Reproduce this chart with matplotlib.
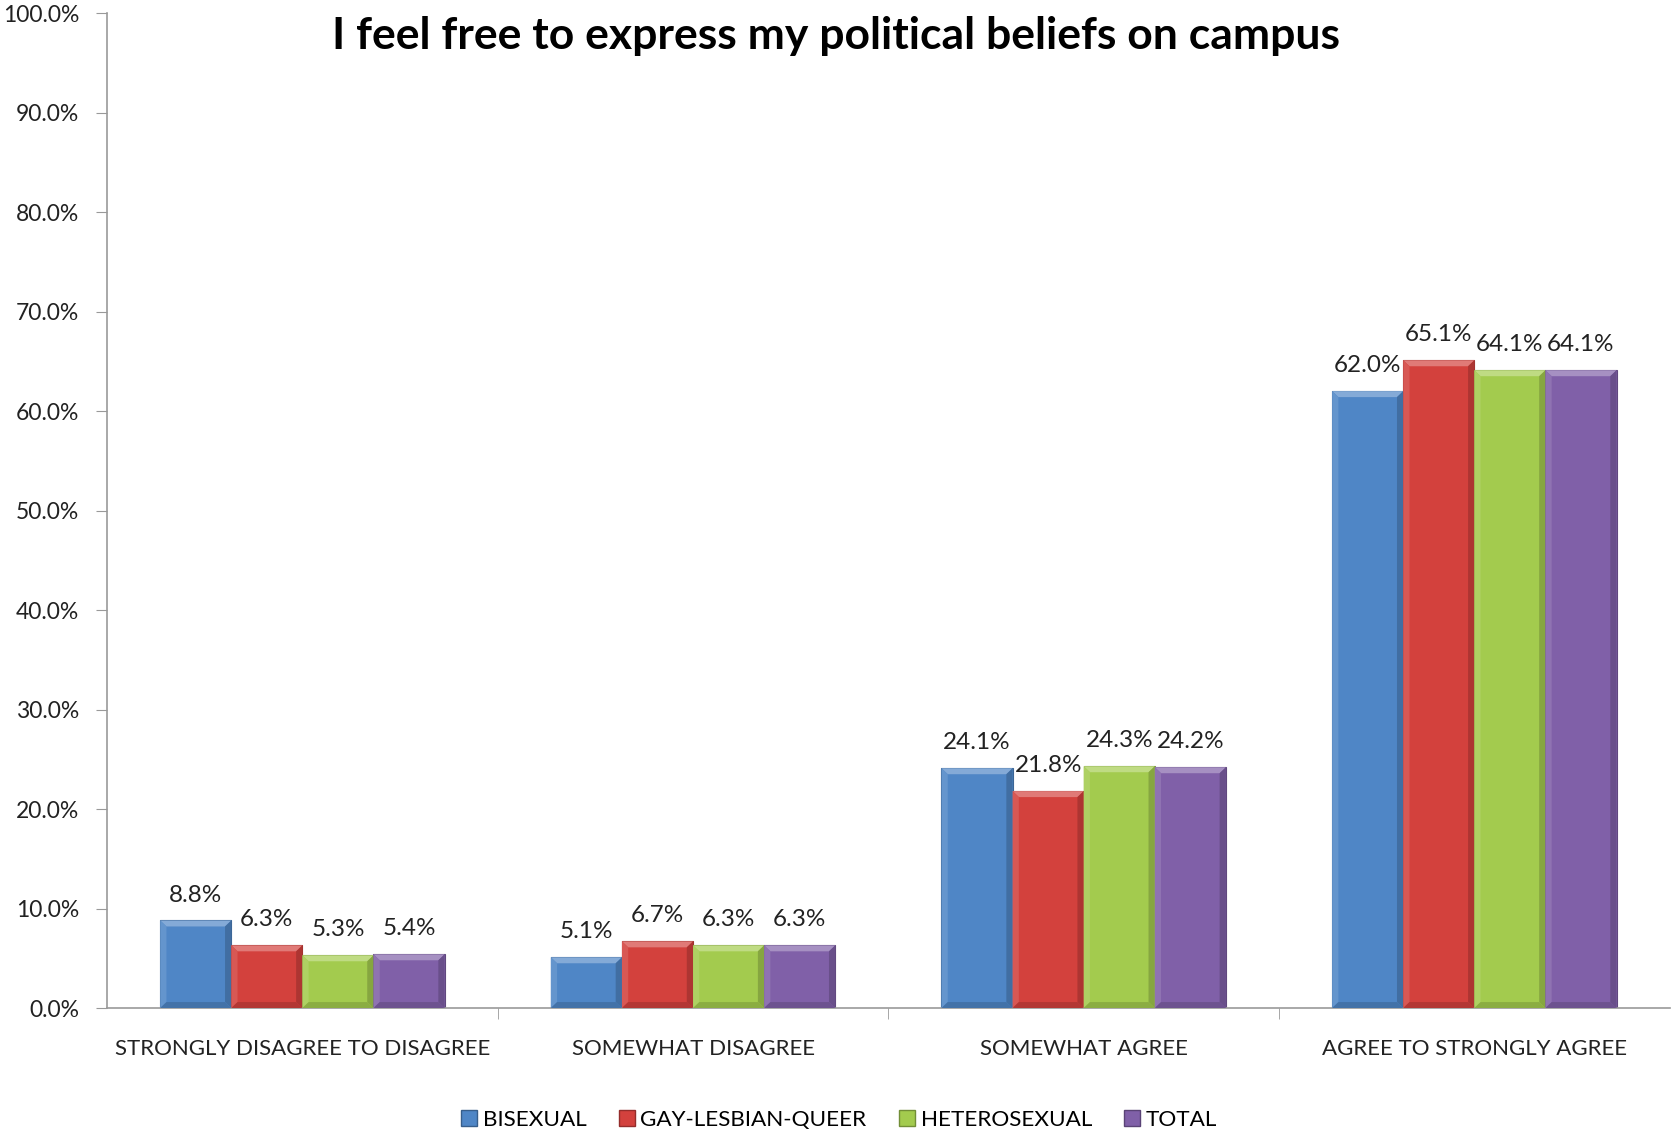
import numpy as np
import matplotlib
matplotlib.use("Agg")
import matplotlib.pyplot as plt
from matplotlib.patches import Polygon
from matplotlib.lines import Line2D
import matplotlib.colors as mcolors

plt.rcParams['font.family'] = ['Lato', 'DejaVu Sans']

categories = ["STRONGLY DISAGREE TO DISAGREE", "SOMEWHAT DISAGREE",
              "SOMEWHAT AGREE", "AGREE TO STRONGLY AGREE"]
series_names = ["BISEXUAL", "GAY-LESBIAN-QUEER", "HETEROSEXUAL", "TOTAL"]
bisexual = [8.8, 5.1, 24.1, 62.0]
gay_lesbian_queer = [6.3, 6.7, 21.8, 65.1]
heterosexual = [5.3, 6.3, 24.3, 64.1]
total = [5.4, 6.3, 24.2, 64.1]
colors = ["#4F86C6", "#D3413D", "#A3CB4E", "#8060A8"]

series = [bisexual, gay_lesbian_queer, heterosexual, total]


def shade(c, f):
    r, g, b = mcolors.to_rgb(c)
    if f > 0:
        return (r + (1 - r) * f, g + (1 - g) * f, b + (1 - b) * f)
    return (r * (1 + f), g * (1 + f), b * (1 + f))


fig = plt.figure(figsize=(16.73, 11.32), dpi=100)
ax = fig.add_axes([0.064, 0.1095, 0.934, 0.879])

x = np.arange(len(categories))
bw = 0.182
bx = 0.016  # bevel size in x data units
by = 0.6    # bevel size in y data units

for i, (vals, col) in enumerate(zip(series, colors)):
    pos = x + (i - 1.5) * bw
    bars = ax.bar(pos, vals, bw, color=col, edgecolor=shade(col, -0.25), linewidth=0.8, zorder=2)
    for b, v in zip(bars, vals):
        x0, w, h = b.get_x(), b.get_width(), b.get_height()
        x1 = x0 + w
        # simple bevel faces
        ax.add_patch(Polygon([(x0, h), (x1, h), (x1 - bx, h - by), (x0 + bx, h - by)],
                             closed=True, facecolor=shade(col, 0.3), edgecolor='none', zorder=3))
        ax.add_patch(Polygon([(x0, 0), (x0, h), (x0 + bx, h - by), (x0 + bx, by)],
                             closed=True, facecolor=shade(col, 0.12), edgecolor='none', zorder=3))
        ax.add_patch(Polygon([(x1, 0), (x1, h), (x1 - bx, h - by), (x1 - bx, by)],
                             closed=True, facecolor=shade(col, -0.18), edgecolor='none', zorder=3))
        ax.add_patch(Polygon([(x0, 0), (x1, 0), (x1 - bx, by), (x0 + bx, by)],
                             closed=True, facecolor=shade(col, -0.15), edgecolor='none', zorder=3))
        ax.text(x0 + w / 2, h + 1.5, "%.1f%%" % v, ha='center', va='bottom',
                fontsize=17.5, color='#222222')

ax.set_xlim(-0.5, len(categories) - 0.5)
ax.set_ylim(0, 100)
ax.set_yticks(np.arange(0, 101, 10))
ax.set_yticklabels(["%.1f%%" % t for t in np.arange(0, 101, 10)], fontsize=16.5, color='#222222')
ax.set_xticks(x)
ax.set_xticklabels(categories, fontsize=16, color='#222222')
ax.set_xticks(np.arange(0.5, len(categories) - 1, 1), minor=True)
ax.tick_params(axis='x', which='major', length=0, pad=22)
ax.tick_params(axis='x', which='minor', length=8, color='#999999', direction='out')
ax.tick_params(axis='y', length=8, color='#999999', pad=12)

for s in ['top', 'right']:
    ax.spines[s].set_visible(False)
for s in ['left', 'bottom']:
    ax.spines[s].set_color('#999999')
    ax.spines[s].set_linewidth(1.2)

fig.text(0.5, 0.968, "I feel free to express my political beliefs on campus",
         ha='center', va='center', fontsize=32, fontweight='bold', color='black')

handles = [Line2D([], [], marker='s', linestyle='none', markersize=11,
                  markerfacecolor=c, markeredgecolor=shade(c, -0.3)) for c in colors]
fig.legend(handles, series_names, loc='center', bbox_to_anchor=(0.5, 0.011),
           ncol=4, frameon=False, fontsize=16.2, handletextpad=0.0, columnspacing=1.2,
           handlelength=1.2)

fig.savefig("out.png", dpi=100)
